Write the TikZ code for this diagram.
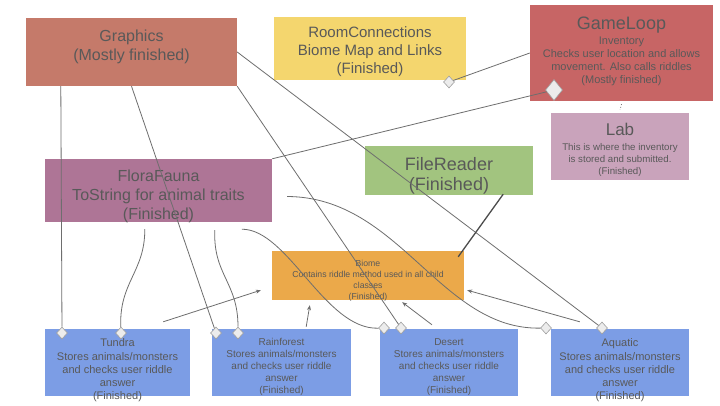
\documentclass[tikz,border=0pt]{standalone}
\usepackage{fontspec}
\setmainfont{Liberation Sans}
\usetikzlibrary{arrows.meta, positioning, shapes.geometric, calc}

\definecolor{graphicsc}{HTML}{C57A6A}
\definecolor{roomc}{HTML}{F4D66E}
\definecolor{loopc}{HTML}{C76565}
\definecolor{labc}{HTML}{C9A3BB}
\definecolor{florac}{HTML}{AE7596}
\definecolor{filec}{HTML}{A2C47F}
\definecolor{biomec}{HTML}{EBA94A}
\definecolor{kidc}{HTML}{7C9DE5}
\definecolor{textc}{HTML}{595959}
\definecolor{linec}{HTML}{6E6E6E}

\begin{document}
\begin{tikzpicture}[x=1pt,y=-1pt,
    box/.style={rectangle,inner sep=0pt},
    txt/.style={align=center,text=textc,inner sep=0pt},
    link/.style={draw=linec,line width=0.8pt},
    isa/.style={link,-{Stealth[length=5pt,width=4pt]}},
    dmd/.style={diamond,draw=gray!75,fill=gray!15,line width=0.6pt,inner sep=0pt,minimum width=11pt,minimum height=12pt}]
\useasboundingbox[fill=white] (0,0) rectangle (720,405);

% Classes
\node[box,fill=graphicsc,minimum width=211,minimum height=68] (graphics) at (131.5,52) {};
\node[box,fill=roomc,minimum width=192,minimum height=63] (room) at (370,48.5) {};
\node[box,fill=loopc,minimum width=183,minimum height=96] (gameloop) at (621.5,53) {};
\node[box,fill=labc,minimum width=138,minimum height=67] (lab) at (620,146.5) {};
\node[box,fill=florac,minimum width=227,minimum height=63] (flora) at (158.5,190.5) {};
\node[box,fill=filec,minimum width=168,minimum height=49] (filer) at (449,170.5) {};
\node[box,fill=biomec,minimum width=192,minimum height=49] (biome) at (368,275.5) {};
\node[box,fill=kidc,minimum width=145,minimum height=67] (tundra) at (117.5,362.5) {};
\node[box,fill=kidc,minimum width=139,minimum height=67] (rain) at (281.5,362.5) {};
\node[box,fill=kidc,minimum width=138,minimum height=67] (desert) at (449,362.5) {};
\node[box,fill=kidc,minimum width=138,minimum height=67] (aquatic) at (620,362.5) {};

% Class texts
\node[txt,font=\fontsize{16}{19}\selectfont] (graphicsT) at (131.5,47) {Graphics\\(Mostly finished)};
\node[txt,font=\fontsize{15}{18}\selectfont] (roomT) at (370,52) {RoomConnections\\Biome Map and Links\\(Finished)};
\node[txt,font=\fontsize{11}{13}\selectfont] (gameloopT) at (621.5,51.5) {{\fontsize{18}{20}\selectfont GameLoop}\\[1.5pt]Inventory\\Checks user location and allows\\movement. Also calls riddles\\(Mostly finished)};
\node[txt,font=\fontsize{9.7}{12}\selectfont] (labT) at (620,150) {{\fontsize{17}{19}\selectfont Lab}\\[3pt]This is where the inventory\\is stored and submitted.\\(Finished)};
\node[txt,font=\fontsize{16}{19}\selectfont] (floraT) at (158.5,196) {FloraFauna\\ToString for animal traits\\(Finished)};
\node[txt,font=\fontsize{18}{20}\selectfont] (filerT) at (449,176) {FileReader\\(Finished)};
\node[txt,font=\fontsize{8.7}{11}\selectfont] (biomeT) at (368,281) {Biome\\Contains riddle method used in all child\\classes\\(Finished)};
\node[txt,font=\fontsize{11}{13.3}\selectfont] (tundraT) at (117.5,370.5) {Tundra\\Stores animals/monsters\\and checks user riddle\\answer\\(Finished)};
\node[txt,font=\fontsize{10}{12}\selectfont] (rainT) at (281.5,367) {Rainforest\\Stores animals/monsters\\and checks user riddle\\answer\\(Finished)};
\node[txt,font=\fontsize{10}{12}\selectfont] (desertT) at (449,367) {Desert\\Stores animals/monsters\\and checks user riddle\\answer\\(Finished)};
\node[txt,font=\fontsize{11}{13.3}\selectfont] (aquaticT) at (620,370.5) {Aquatic\\Stores animals/monsters\\and checks user riddle\\answer\\(Finished)};

% Aggregation diamonds
\node[dmd] (roomD) at (449,82) {};
\node[dmd,minimum width=17pt,minimum height=21pt] (loopD) at (554,90) {};
\node[dmd] (tundraD1) at (62,333) {};
\node[dmd] (tundraD2) at (121,333) {};
\node[dmd] (rainD1) at (216,333) {};
\node[dmd] (rainD2) at (238,333) {};
\node[dmd] (desertD1) at (384,328) {};
\node[dmd] (desertD2) at (401,328) {};
\node[dmd] (aquaticD1) at (546,328) {};
\node[dmd] (aquaticD2) at (602,328) {};

% Graphics links
\draw[link] ($(graphics.south west)+(35,0)$) -- (tundraD1);
\draw[link] (graphics.south) -- (rainD1);
\draw[link] (graphics.south east) -- (desertD2);
\draw[link] (graphics.east) -- (aquaticD2);

% RoomConnections / GameLoop / Lab
\draw[link] (roomD) -- (gameloop.west);
\draw[link] (loopD) -- (flora.north east);
\draw[link,dotted] ($(gameloop.south)+(0,3)$) -- ($(lab.north)+(0,-3)$);

% FileReader feeds Biome
\draw[draw=black!70,line width=1.3pt] ($(filer.south east)+(-30,-1)$) -- ($(biome.north east)+(-6,6)$);

% FloraFauna links
\draw[link] ($(flora.south west)+(100,7)$) .. controls (145,272) and (119,282) .. (tundraD2);
\draw[link] ($(flora.south west)+(170,8)$) .. controls (213,275) and (238,282) .. (rainD2);
\draw[link] ($(flora.south west)+(197,7)$) .. controls (288,229) and (325,330) .. (desertD1);
\draw[link] ($(flora.east)+(15,6)$) .. controls (400,197) and (440,330) .. (aquaticD1);

% Inheritance
\draw[isa] ($(tundra.north east)+(-27,-7)$) -- ($(biome.south west)+(-11,-10)$);
\draw[isa] ($(rain.north east)+(-45,-2)$) -- ($(biome.south west)+(38,5)$);
\draw[isa] ($(desert.north)+(-17,-4)$) -- ($(biome.south east)+(-62,2)$);
\draw[isa] ($(aquatic.north west)+(29,-7)$) -- ($(biome.south east)+(3,-10)$);
\end{tikzpicture}
\end{document}
